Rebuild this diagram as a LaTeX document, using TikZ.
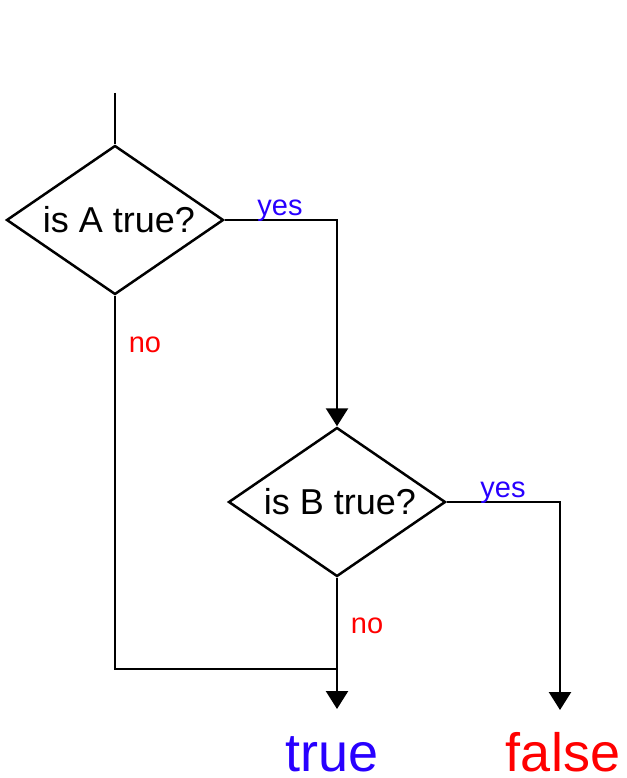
\documentclass[tikz,border=0pt]{standalone}
\usepackage{fontspec}
\setmainfont{Liberation Sans}
\usetikzlibrary{shapes.geometric,arrows.meta}
\definecolor{yesblue}{RGB}{40,0,255}
\definecolor{nored}{RGB}{255,0,0}
\begin{document}
\begin{tikzpicture}[x=1pt,y=-1pt,
  line width=2.5pt,
  decision/.style={shape=diamond,draw,inner sep=0pt,shape aspect=1.456,
    minimum width=217pt,minimum height=149pt,
    font=\fontsize{36}{40}\selectfont},
  arr/.style={-{Triangle[width=22pt,length=18pt]}},
  yeslab/.style={anchor=base,text=yesblue,inner sep=0pt,font=\fontsize{29}{32}\selectfont},
  nolab/.style={anchor=base,text=nored,inner sep=0pt,font=\fontsize{29}{32}\selectfont},
  result/.style={anchor=base,inner sep=0pt,font=\fontsize{54}{60}\selectfont}]
\useasboundingbox (0,0) rectangle (626,778);
\node[decision] (A) at (115,220) {\hspace*{8pt}is A true?};
\node[decision] (B) at (337,502) {\hspace*{6pt}is B true?};
\coordinate (start) at (115,93);
\coordinate (join) at (337,669);
\coordinate (endT) at (337,709);
\coordinate (endF) at (560,710);
\draw (start) -- (A.north);
\draw[arr] (A.east) -| (B.north);
\draw (A.south) |- (join);
\draw[arr] (B.south) -- (endT);
\draw[arr] (B.east) -| (endF);
\node[yeslab] (yA) at (280,215) {yes};
\node[nolab] (nA) at (145,352) {no};
\node[yeslab] (yB) at (503,497) {yes};
\node[nolab] (nB) at (367,633) {no};
\node[result,text=yesblue] (tr) at (332,771) {true};
\node[result,text=nored] (fa) at (563,771) {false};
\end{tikzpicture}
\end{document}
